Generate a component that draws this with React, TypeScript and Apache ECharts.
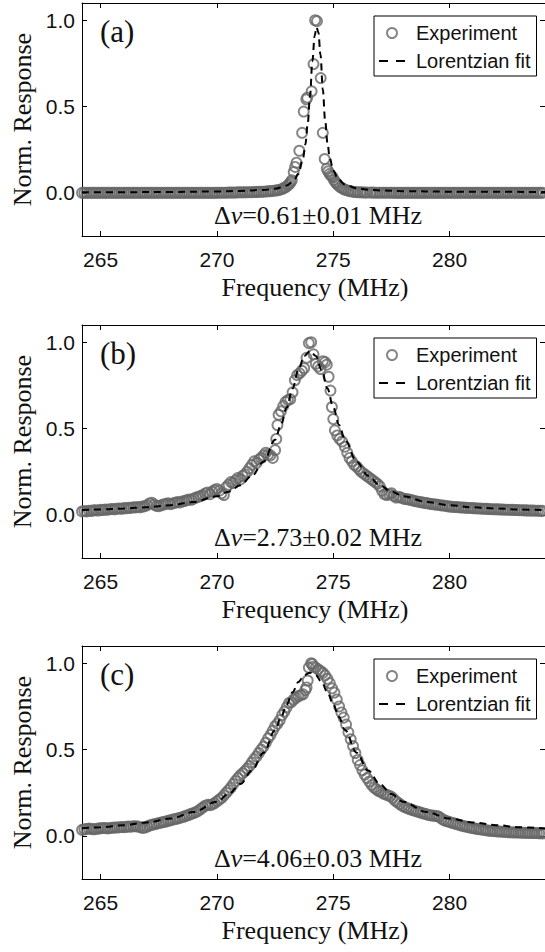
import React, { useEffect, useRef } from "react";
import * as echarts from "echarts";

// ---------- data ----------
const xTicks = [265, 270, 275, 280];
const yTicks = [0, 0.5, 1.0];
const panelLabels = ["(a)", "(b)", "(c)"];
const widthTexts = ["=0.61±0.01 MHz", "=2.73±0.02 MHz", "=4.06±0.03 MHz"];
const seriesNames = ["Experiment", "Lorentzian fit"];
const xTitle = "Frequency (MHz)";
const yTitle = "Norm. Response";

const expA: [number, number][] = [
  [264.2,0],[264.3,0],[264.4,0],[264.5,0],[264.6,0],[264.7,0],[264.8,0],[264.9,0],[265.0,0],[265.1,0],
  [265.2,0],[265.3,0],[265.4,0],[265.5,0],[265.6,0],[265.7,0],[265.8,0],[265.9,0],[266.0,0],[266.1,0],
  [266.2,0],[266.3,0],[266.4,0],[266.5,0],[266.6,0],[266.7,0],[266.8,0],[266.9,0],[267.0,0],[267.1,0],
  [267.2,0],[267.3,0],[267.4,0],[267.5,0],[267.6,0],[267.7,0],[267.8,0],[267.9,0],[268.0,0],[268.1,0],
  [268.2,0],[268.3,0],[268.4,0],[268.5,0],[268.6,0],[268.7,0],[268.8,0],[268.9,0],[269.0,0],[269.1,0],
  [269.2,0],[269.3,0],[269.4,0],[269.5,0],[269.6,0],[269.7,0],[269.8,0],[269.9,0],[270.0,0],[270.1,0.001],
  [270.2,0.001],[270.3,0.001],[270.4,0.001],[270.5,0.002],[270.6,0.002],[270.7,0.002],[270.8,0.002],[270.9,0.003],[271.0,0.003],[271.1,0.003],
  [271.2,0.003],[271.3,0.004],[271.4,0.004],[271.5,0.004],[271.6,0.005],[271.7,0.005],[271.8,0.006],[271.9,0.006],[272.0,0.007],[272.1,0.008],
  [272.2,0.009],[272.3,0.01],[272.4,0.011],[272.5,0.013],[272.6,0.015],[272.7,0.018],[272.8,0.022],[272.88,0.028],[272.96,0.034],[273.04,0.042],
  [273.1,0.05],[273.16,0.06],[273.22,0.073],[273.3,0.121],[273.36,0.15],[273.42,0.175],[273.54,0.244],[273.66,0.348],[273.73,0.471],[273.84,0.542],
  [273.88,0.552],[274.07,0.588],[274.15,0.746],[274.22,1.0],[274.3,0.995],[274.46,0.665],[274.55,0.348],[274.63,0.196],[274.72,0.14],[274.78,0.125],
  [274.84,0.11],[274.9,0.1],[274.97,0.092],[275.03,0.075],[275.09,0.063],[275.15,0.053],[275.22,0.043],[275.3,0.034],[275.38,0.027],[275.46,0.021],
  [275.55,0.016],[275.65,0.012],[275.75,0.009],[275.85,0.007],[275.95,0.005],[276.05,0.004],[276.15,0.003],[276.25,0.003],[276.35,0.002],[276.45,0.002],
  [276.6,0.002],[276.7,0.002],[276.8,0.001],[276.9,0.001],[277.0,0.001],[277.1,0.001],[277.2,0.001],[277.3,0.001],[277.4,0.001],[277.5,0.001],
  [277.6,0],[277.7,0],[277.8,0],[277.9,0],[278.0,0],[278.1,0],[278.2,0],[278.3,0],[278.4,0],[278.5,0],
  [278.6,0],[278.7,0],[278.8,0],[278.9,0],[279.0,0],[279.1,0],[279.2,0],[279.3,0],[279.4,0],[279.5,0],
  [279.6,0],[279.7,0],[279.8,0],[279.9,0],[280.0,0],[280.1,0],[280.2,0],[280.3,0],[280.4,0],[280.5,0],
  [280.6,0],[280.7,0],[280.8,0],[280.9,0],[281.0,0],[281.1,0],[281.2,0],[281.3,0],[281.4,0],[281.5,0],
  [281.6,0],[281.7,0],[281.8,0],[281.9,0],[282.0,0],[282.1,0],[282.2,0],[282.3,0],[282.4,0],[282.5,0],
  [282.6,0],[282.7,0],[282.8,0],[282.9,0],[283.0,0],[283.1,0],[283.2,0],[283.3,0],[283.4,0],[283.5,0],
  [283.6,0],[283.7,0],[283.8,0],[283.9,0],[284.0,0]
];

const fitA: [number, number][] = [
  [264.2,0.003],[266,0.004],[268,0.005],[270,0.008],[271,0.011],[272,0.017],[272.5,0.024],[273,0.042],
  [273.3,0.07],[273.5,0.11],[273.7,0.2],[273.8,0.28],[273.9,0.4],[274.0,0.56],[274.1,0.76],[274.2,0.91],
  [274.28,0.96],[274.36,0.93],[274.45,0.8],[274.55,0.6],[274.65,0.42],[274.75,0.29],[274.85,0.2],[275.0,0.13],
  [275.2,0.08],[275.5,0.048],[276,0.026],[276.5,0.018],[277,0.014],[278,0.01],[280,0.007],[284.1,0.005]
];

const expB: [number, number][] = [
  [264.2,0.02],[264.3,0.022],[264.4,0.02],[264.5,0.024],[264.6,0.023],[264.7,0.026],[264.8,0.027],[264.9,0.025],[265.0,0.029],[265.1,0.028],
  [265.2,0.031],[265.3,0.03],[265.4,0.033],[265.5,0.034],[265.6,0.032],[265.7,0.036],[265.8,0.037],[265.9,0.035],[266.0,0.039],[266.1,0.038],
  [266.2,0.041],[266.3,0.04],[266.4,0.044],[266.5,0.043],[266.6,0.046],[266.7,0.044],[266.8,0.048],[266.9,0.05],[267.0,0.056],[267.1,0.066],
  [267.2,0.07],[267.3,0.06],[267.4,0.052],[267.5,0.05],[267.6,0.055],[267.7,0.06],[267.8,0.064],[267.9,0.067],[268.0,0.062],[268.1,0.066],
  [268.2,0.07],[268.3,0.074],[268.4,0.072],[268.5,0.077],[268.6,0.08],[268.7,0.085],[268.8,0.089],[268.9,0.087],[269.0,0.094],[269.1,0.1],
  [269.2,0.104],[269.3,0.11],[269.4,0.114],[269.5,0.124],[269.6,0.13],[269.7,0.12],[269.8,0.134],[269.9,0.144],[270.0,0.15],[270.1,0.14],
  [270.2,0.125],[270.3,0.115],[270.4,0.16],[270.5,0.175],[270.6,0.19],[270.7,0.185],[270.8,0.2],[270.9,0.214],[271.0,0.205],[271.1,0.225],
  [271.2,0.235],[271.3,0.25],[271.4,0.27],[271.5,0.29],[271.6,0.31],[271.7,0.3],[271.8,0.32],[271.9,0.33],[272.0,0.345],[272.1,0.36],
  [272.2,0.35],[272.3,0.345],[272.4,0.33],[272.5,0.375],[272.55,0.44],[272.6,0.52],[272.65,0.58],[272.75,0.6],[272.85,0.63],[272.95,0.655],
  [273.05,0.665],[273.15,0.67],[273.25,0.71],[273.35,0.78],[273.45,0.81],[273.55,0.82],[273.65,0.835],[273.75,0.85],[273.85,0.91],[273.95,0.995],
  [274.05,1.0],[274.15,0.93],[274.25,0.875],[274.35,0.86],[274.45,0.845],[274.55,0.89],[274.65,0.885],[274.72,0.87],[274.8,0.8],[274.88,0.72],
  [274.94,0.625],[275.0,0.555],[275.07,0.49],[275.17,0.46],[275.27,0.44],[275.38,0.425],[275.5,0.395],[275.6,0.36],[275.7,0.33],[275.8,0.31],
  [275.9,0.29],[276.0,0.28],[276.1,0.265],[276.2,0.25],[276.3,0.24],[276.4,0.23],[276.5,0.22],[276.6,0.21],[276.7,0.2],[276.8,0.19],
  [276.9,0.18],[277.0,0.165],[277.1,0.14],[277.2,0.12],[277.3,0.115],[277.4,0.12],[277.5,0.125],[277.6,0.11],[277.7,0.1],[277.8,0.105],
  [277.9,0.1],[278.0,0.095],[278.1,0.092],[278.2,0.09],[278.3,0.087],[278.4,0.084],[278.5,0.08],[278.6,0.078],[278.7,0.075],[278.8,0.073],
  [278.9,0.07],[279.0,0.068],[279.1,0.066],[279.2,0.063],[279.3,0.062],[279.4,0.06],[279.5,0.058],[279.6,0.056],[279.7,0.054],[279.8,0.053],
  [279.9,0.05],[280.0,0.048],[280.1,0.047],[280.2,0.046],[280.3,0.045],[280.4,0.044],[280.5,0.043],[280.6,0.042],[280.7,0.041],[280.8,0.04],
  [280.9,0.04],[281.0,0.039],[281.1,0.038],[281.2,0.037],[281.3,0.037],[281.4,0.036],[281.5,0.035],[281.6,0.035],[281.7,0.034],[281.8,0.033],
  [281.9,0.033],[282.0,0.032],[282.1,0.032],[282.2,0.031],[282.3,0.031],[282.4,0.03],[282.5,0.03],[282.6,0.029],[282.7,0.029],[282.8,0.028],
  [282.9,0.028],[283.0,0.027],[283.1,0.027],[283.2,0.026],[283.3,0.026],[283.4,0.025],[283.5,0.025],[283.6,0.025],[283.7,0.024],[283.8,0.024],
  [283.9,0.023],[284.0,0.023]
];

const fitB: [number, number][] = [
  [264.2,0.028],[265,0.031],[266,0.037],[267,0.044],[268,0.056],[269,0.075],[270,0.108],[270.5,0.134],
  [271,0.171],[271.5,0.226],[272,0.308],[272.5,0.435],[272.75,0.521],[273,0.622],[273.25,0.732],[273.5,0.839],
  [273.75,0.92],[274,0.95],[274.25,0.92],[274.5,0.839],[274.75,0.732],[275,0.622],[275.25,0.521],[275.5,0.435],
  [276,0.308],[276.5,0.226],[277,0.171],[277.5,0.134],[278,0.108],[279,0.075],
  [280,0.056],[281,0.044],[282,0.037],[283,0.031],[284.1,0.027]
];

const expC: [number, number][] = [
  [264.2,0.035],[264.3,0.038],[264.4,0.04],[264.5,0.042],[264.6,0.04],[264.7,0.038],[264.8,0.04],[264.9,0.042],[265.0,0.044],[265.1,0.046],
  [265.2,0.045],[265.3,0.043],[265.4,0.045],[265.5,0.047],[265.6,0.049],[265.7,0.048],[265.8,0.05],[265.9,0.051],[266.0,0.05],[266.1,0.052],
  [266.2,0.054],[266.3,0.053],[266.4,0.055],[266.5,0.056],[266.6,0.054],[266.7,0.05],[266.8,0.046],[266.9,0.048],[267.0,0.054],[267.1,0.06],
  [267.2,0.064],[267.3,0.067],[267.4,0.07],[267.5,0.074],[267.6,0.077],[267.7,0.08],[267.8,0.083],[267.9,0.087],[268.0,0.09],[268.1,0.094],
  [268.2,0.097],[268.3,0.1],[268.4,0.104],[268.5,0.108],[268.6,0.112],[268.7,0.118],[268.8,0.122],[268.9,0.128],[269.0,0.132],[269.1,0.138],
  [269.2,0.145],[269.3,0.155],[269.4,0.165],[269.5,0.175],[269.6,0.18],[269.7,0.178],[269.8,0.182],[269.9,0.19],[270.0,0.2],[270.1,0.21],
  [270.2,0.22],[270.3,0.235],[270.4,0.25],[270.5,0.265],[270.6,0.28],[270.7,0.3],[270.8,0.318],[270.9,0.335],[271.0,0.35],[271.1,0.362],
  [271.2,0.375],[271.3,0.39],[271.4,0.405],[271.5,0.425],[271.6,0.445],[271.7,0.46],[271.8,0.48],[271.9,0.5],[272.0,0.517],[272.1,0.54],
  [272.2,0.565],[272.3,0.585],[272.4,0.61],[272.5,0.635],[272.6,0.65],[272.7,0.67],[272.8,0.7],[272.9,0.72],[273.0,0.745],[273.1,0.77],
  [273.2,0.775],[273.3,0.79],[273.4,0.8],[273.5,0.81],[273.6,0.815],[273.7,0.82],[273.8,0.845],[273.85,0.86],[273.9,0.9],[273.95,0.975],
  [274.05,1.0],[274.1,0.995],[274.15,0.98],[274.25,0.975],[274.35,0.965],[274.45,0.955],[274.55,0.945],[274.65,0.93],[274.75,0.91],[274.85,0.885],
  [274.95,0.855],[275.05,0.83],[275.15,0.79],[275.25,0.75],[275.35,0.715],[275.45,0.685],[275.55,0.645],[275.65,0.6],[275.75,0.56],[275.85,0.52],
  [275.95,0.48],[276.05,0.44],[276.15,0.41],[276.25,0.38],[276.35,0.355],[276.45,0.335],[276.55,0.315],[276.65,0.295],[276.75,0.28],[276.85,0.27],
  [276.95,0.26],[277.05,0.255],[277.15,0.245],[277.25,0.24],[277.35,0.235],[277.45,0.23],[277.55,0.22],[277.65,0.205],[277.75,0.195],[277.85,0.185],
  [277.95,0.175],[278.05,0.168],[278.15,0.162],[278.25,0.157],[278.35,0.152],[278.45,0.148],[278.55,0.143],[278.65,0.139],[278.75,0.135],[278.85,0.131],
  [278.95,0.127],[279.05,0.123],[279.15,0.12],[279.25,0.118],[279.35,0.116],[279.45,0.115],[279.55,0.11],[279.65,0.1],[279.75,0.092],[279.85,0.086],
  [279.95,0.082],[280.05,0.078],[280.15,0.074],[280.25,0.07],[280.35,0.066],[280.45,0.062],[280.55,0.058],[280.65,0.055],[280.75,0.052],[280.85,0.049],
  [280.95,0.046],[281.05,0.044],[281.15,0.041],[281.25,0.039],[281.35,0.037],[281.45,0.035],[281.55,0.033],[281.65,0.031],[281.75,0.029],[281.85,0.028],
  [281.95,0.027],[282.05,0.026],[282.15,0.025],[282.25,0.024],[282.35,0.023],[282.45,0.022],[282.55,0.021],[282.65,0.021],[282.75,0.02],[282.85,0.02],
  [282.95,0.019],[283.05,0.019],[283.15,0.018],[283.25,0.018],[283.35,0.017],[283.45,0.017],[283.55,0.016],[283.65,0.016],[283.75,0.016],[283.85,0.015],
  [283.95,0.015],[284.05,0.015]
];

const fitC: [number, number][] = [
  [264.2,0.044],[265,0.05],[266,0.062],[267,0.078],[268,0.1],[269,0.138],[270,0.198],[270.5,0.242],
  [271,0.3],[271.5,0.378],[272,0.482],[272.5,0.613],[272.75,0.687],[273,0.761],[273.25,0.832],[273.5,0.891],
  [273.75,0.931],[274,0.945],[274.25,0.931],[274.5,0.891],[274.75,0.832],[275,0.761],[275.25,0.687],[275.5,0.613],
  [276,0.482],[276.5,0.378],[277,0.3],[277.5,0.242],[278,0.198],[279,0.138],
  [280,0.1],[281,0.078],[282,0.062],[283,0.05],[284.1,0.043]
];

const experiments = [expA, expB, expC];
const fits = [fitA, fitB, fitC];

// ---------- layout / style ----------
const X_MIN = 264.2;
const X_MAX = 284.1;
const Y_MIN = -0.25;
const Y_MAX = 1.1;
const GRID_TOPS = [3, 325, 646];
const GRID_LEFT = 82;
const GRID_W = 465;
const GRID_H = 233;
const SANS = "Liberation Sans";
const SERIF = "Liberation Serif";
const GRAY = "#666666";
const INK = "#111";

function buildOption(): echarts.EChartsCoreOption {
  const grid = GRID_TOPS.map((t) => ({ left: GRID_LEFT, top: t, width: GRID_W, height: GRID_H }));
  const axisLine = { show: true, onZero: false, lineStyle: { color: "#000", width: 1 } };
  const xAxis: any[] = [];
  const yAxis: any[] = [];
  GRID_TOPS.forEach((_, i) => {
    const tick = { show: true, inside: true, length: 5, customValues: xTicks, lineStyle: { color: "#000", width: 1 } };
    xAxis.push({
      type: "value", gridIndex: i, position: "bottom", min: X_MIN, max: X_MAX,
      axisLine, axisTick: tick, splitLine: { show: false },
      axisLabel: { show: true, customValues: xTicks, margin: 13, fontSize: 21, fontFamily: SANS, color: INK },
    });
    xAxis.push({
      type: "value", gridIndex: i, position: "top", min: X_MIN, max: X_MAX,
      axisLine, axisTick: tick, splitLine: { show: false }, axisLabel: { show: false },
    });
    const ytick = { show: true, inside: true, length: 5, customValues: yTicks, lineStyle: { color: "#000", width: 1 } };
    yAxis.push({
      type: "value", gridIndex: i, position: "left", min: Y_MIN, max: Y_MAX,
      axisLine, axisTick: ytick, splitLine: { show: false },
      axisLabel: {
        show: true, customValues: yTicks, margin: 7, fontSize: 21, fontFamily: SANS, color: INK,
        formatter: (v: number) => v.toFixed(1),
      },
    });
    yAxis.push({
      type: "value", gridIndex: i, position: "right", min: Y_MIN, max: Y_MAX,
      axisLine, axisTick: ytick, splitLine: { show: false }, axisLabel: { show: false },
    });
  });

  const series: any[] = [];
  GRID_TOPS.forEach((_, i) => {
    series.push({
      type: "scatter", name: seriesNames[0], xAxisIndex: 2 * i, yAxisIndex: 2 * i,
      data: experiments[i], symbol: "circle", symbolSize: 10, silent: true, z: 2,
      itemStyle: { color: "rgba(0,0,0,0)", borderColor: GRAY, borderWidth: 1.9 },
    });
    series.push({
      type: "line", name: seriesNames[1], xAxisIndex: 2 * i, yAxisIndex: 2 * i,
      data: fits[i], symbol: "none", showSymbol: false, smooth: 0.35, smoothMonotone: "x",
      silent: true, z: 3,
      itemStyle: { color: "#000" },
      lineStyle: { color: "#000", width: 2, type: [7, 5] },
    });
  });

  const legend = GRID_TOPS.map((t) => ({
    orient: "vertical", left: 374, top: t + 13,
    itemWidth: 26, itemHeight: 10, itemGap: 8,
    padding: [7, 6, 5, 4],
    borderColor: "#000", borderWidth: 1, backgroundColor: "#fff",
    selectedMode: false,
    textStyle: { fontFamily: SANS, fontSize: 20, color: INK, padding: [0, 0, 0, 6] },
    lineStyle: { type: [9, 8], width: 2, color: "#000" },
    data: [
      { name: seriesNames[0], icon: "circle", itemStyle: { color: "rgba(0,0,0,0)", borderColor: GRAY, borderWidth: 1.9 } },
      { name: seriesNames[1], itemStyle: { color: "rgba(0,0,0,0)", borderColor: "rgba(0,0,0,0)", borderWidth: 0, opacity: 0 } },
    ],
  }));

  const graphic: any[] = [];
  GRID_TOPS.forEach((t, i) => {
    // axis titles
    graphic.push({
      type: "text", x: GRID_LEFT + 233, y: t + GRID_H + 51.5, silent: true,
      style: { text: xTitle, fontFamily: SERIF, fontSize: 26, fill: INK, align: "center", verticalAlign: "middle" },
    });
    graphic.push({
      type: "text", x: 22, y: t + GRID_H / 2, rotation: Math.PI / 2, silent: true,
      style: { text: yTitle, fontFamily: SERIF, fontSize: 26, fill: INK, align: "center", verticalAlign: "middle" },
    });
    // panel tag
    graphic.push({
      type: "text", x: 100, y: t + 28.5, silent: true,
      style: { text: panelLabels[i], fontFamily: SERIF, fontSize: 31, fill: INK, verticalAlign: "middle", align: "left" },
    });
    // linewidth annotation
    graphic.push({
      type: "text", x: 318, y: t + 212, silent: true,
      style: {
        text: `{u|Δ}{i|ν}{u|${widthTexts[i]}}`,
        align: "center", verticalAlign: "middle",
        rich: {
          u: { fontFamily: SERIF, fontSize: 26, fill: INK },
          i: { fontFamily: SERIF, fontSize: 26, fontStyle: "italic", fill: INK },
        },
      },
    });
  });

  return {
    animation: false,
    backgroundColor: "#fff",
    grid, xAxis, yAxis, series, legend, graphic,
  };
}

export default function App() {
  const ref = useRef<HTMLDivElement>(null);
  useEffect(() => {
    if (!ref.current) return;
    const chart = echarts.init(ref.current, undefined, { renderer: "svg" });
    chart.setOption(buildOption());
    return () => chart.dispose();
  }, []);
  return (
    <div
      ref={ref}
      style={{ position: "absolute", left: 0, top: 0, width: 545, height: 952, background: "#fff" }}
    />
  );
}
